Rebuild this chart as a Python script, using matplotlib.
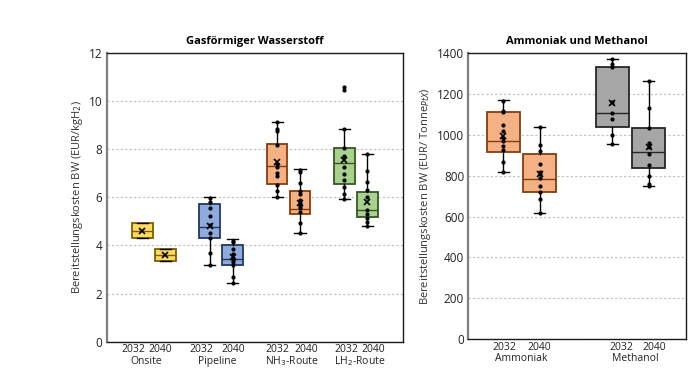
import matplotlib
matplotlib.use("Agg")
import matplotlib.pyplot as plt
from matplotlib.transforms import blended_transform_factory

plt.rcParams['font.family'] = ['Open Sans', 'DejaVu Sans']

# ---------------- data: gaseous hydrogen (EUR/kg H2) ----------------
h2_groups = ["Onsite", "Pipeline", "NH$_3$-Route", "LH$_2$-Route"]
years = ["2032", "2040"]
h2_q1 = [4.32, 3.36, 4.32, 3.17, 6.56, 5.30, 6.55, 5.19]
h2_med = [4.60, 3.58, 4.75, 3.42, 7.28, 5.52, 7.40, 5.45]
h2_q3 = [4.91, 3.83, 5.70, 4.01, 8.21, 6.27, 8.06, 6.23]
h2_wlo = [4.32, 3.36, 3.17, 2.42, 5.99, 4.53, 5.91, 4.79]
h2_whi = [4.91, 3.83, 5.99, 4.25, 9.11, 7.18, 8.82, 7.81]
h2_mean = [4.60, 3.58, 4.82, 3.53, 7.45, 5.75, 7.54, 5.79]
h2_points = [
    [],
    [],
    [5.98, 5.82, 5.55, 5.22, 4.85, 4.50, 4.30, 3.70, 3.17],
    [4.19, 4.12, 3.85, 3.64, 3.49, 3.40, 3.32, 3.17, 2.70, 2.42],
    [9.11, 8.82, 8.75, 8.17, 7.36, 7.25, 6.99, 6.89, 6.51, 6.26, 5.99],
    [7.13, 7.05, 6.57, 6.26, 6.13, 5.88, 5.74, 5.65, 5.54, 5.40, 4.94, 4.53],
    [10.59, 10.47, 8.82, 8.03, 7.71, 7.27, 6.95, 6.71, 6.44, 6.12, 5.91],
    [7.81, 7.10, 6.64, 6.30, 6.02, 5.47, 5.29, 5.12, 4.98, 4.79],
]
h2_fill = ["#FFD966", "#FFD966", "#8FAADC", "#8FAADC",
           "#F4B183", "#F4B183", "#A9D18E", "#A9D18E"]
h2_edge = ["#7F6000", "#7F6000", "#203864", "#203864",
           "#843C0C", "#843C0C", "#385723", "#385723"]

# ---------------- data: ammonia & methanol (EUR/t PtX) ----------------
pt_groups = ["Ammoniak", "Methanol"]
pt_q1 = [914, 720, 1036, 839]
pt_med = [967, 785, 1106, 915]
pt_q3 = [1109, 904, 1331, 1033]
pt_wlo = [816, 617, 956, 749]
pt_whi = [1171, 1036, 1369, 1260]
pt_mean = [995, 809, 1155, 938]
pt_points = [
    [1163, 1118, 1112, 1049, 1016, 984, 967, 946, 927, 868, 816],
    [1036, 951, 919, 857, 816, 809, 788, 751, 720, 687, 617],
    [1369, 1343, 1330, 1158, 1106, 1077, 998, 956],
    [1260, 1132, 1033, 959, 938, 907, 853, 800, 760, 749],
]
pt_fill = ["#F4B183", "#F4B183", "#A6A6A6", "#A6A6A6"]
pt_edge = ["#843C0C", "#843C0C", "#262626", "#262626"]

fig = plt.figure(figsize=(7.0, 3.8), dpi=100)
ax1 = fig.add_axes([0.1524, 0.1008, 0.4233, 0.7605])
ax2 = fig.add_axes([0.669, 0.107, 0.311, 0.754])


def draw(ax, groups, q1, med, q3, wlo, whi, mean, points, fills, edges,
         centers, off, width, capw, xlim, year_pos, group_pos):
    pos = []
    for c in centers:
        pos += [c - off, c + off]
    stats = []
    for i in range(len(pos)):
        stats.append(dict(q1=q1[i], med=med[i], q3=q3[i], whislo=wlo[i],
                          whishi=whi[i], mean=mean[i], fliers=[]))
    bp = ax.bxp(stats, positions=pos, widths=width, patch_artist=True,
                showmeans=False, showfliers=False, capwidths=capw,
                manage_ticks=False,
                medianprops=dict(color="k", linewidth=1.0),
                whiskerprops=dict(color="k", linewidth=1.0),
                capprops=dict(color="k", linewidth=1.0))
    for i, b in enumerate(bp["boxes"]):
        b.set_facecolor(fills[i])
        b.set_edgecolor(edges[i])
        b.set_linewidth(1.3)
        b.set_zorder(2)
    for i, m in enumerate(bp["medians"]):
        m.set_color(edges[i])
    for i, p in enumerate(pos):
        ys = points[i]
        ax.plot([p] * len(ys), ys, "o", color="k", markersize=2.0, zorder=4)
        ax.plot([p], [mean[i]], "x", color="k", markersize=4.0,
                markeredgewidth=1.2, zorder=5)
    ax.set_xlim(*xlim)
    ax.set_xticks(year_pos, years * len(groups))
    ax.tick_params(axis="x", length=0, pad=2, labelsize=7.5, colors="#222222")
    ax.tick_params(axis="y", length=0, pad=3, labelsize=8.5, colors="#222222")
    trans = blended_transform_factory(ax.transData, ax.transAxes)
    for c, g in zip(group_pos, groups):
        ax.text(c, -0.068, g, transform=trans, ha="center", va="center",
                fontsize=7.5, color="#222222")
    ax.grid(axis="y", linestyle=(0, (2, 2)), color="#BFBFBF", linewidth=0.8)
    ax.set_axisbelow(True)
    for s in ["top", "right", "bottom"]:
        ax.spines[s].set_color("#1a1a1a")
        ax.spines[s].set_linewidth(1.0)
    ax.spines["left"].set_color("#7f7f7f")
    ax.spines["left"].set_linewidth(1.6)


draw(ax1, h2_groups, h2_q1, h2_med, h2_q3, h2_wlo, h2_whi, h2_mean, h2_points,
     h2_fill, h2_edge, [0.7, 1.7, 2.7, 3.7], 0.17, 0.31, 0.165, (0, 4.4),
     [0.395, 0.792, 1.412, 1.873, 2.542, 2.963, 3.553, 3.963],
     [0.581, 1.647, 2.750, 3.753])
ax1.set_ylim(0, 12)
ax1.set_yticks([0, 2, 4, 6, 8, 10, 12])
ax1.set_title("Gasförmiger Wasserstoff", fontsize=8, fontweight="bold", pad=6)
ax1.set_ylabel("Bereitstellungskosten BW (EUR/kgH$_2$)", fontsize=8,
               color="#333333", labelpad=3)

draw(ax2, pt_groups, pt_q1, pt_med, pt_q3, pt_wlo, pt_whi, pt_mean, pt_points,
     pt_fill, pt_edge, [0.49, 1.49], 0.167, 0.30, 0.10, (0, 2),
     [0.331, 0.650, 1.403, 1.706], [0.491, 1.538])
ax2.set_ylim(0, 1400)
ax2.set_yticks([0, 200, 400, 600, 800, 1000, 1200, 1400])
ax2.set_title("Ammoniak und Methanol", fontsize=8, fontweight="bold", pad=6)
ax2.set_ylabel("Bereitstellungskosten BW (EUR/ Tonne$_{PtX}$)", fontsize=8,
               color="#333333", labelpad=3)

fig.savefig("out.png", dpi=100)
